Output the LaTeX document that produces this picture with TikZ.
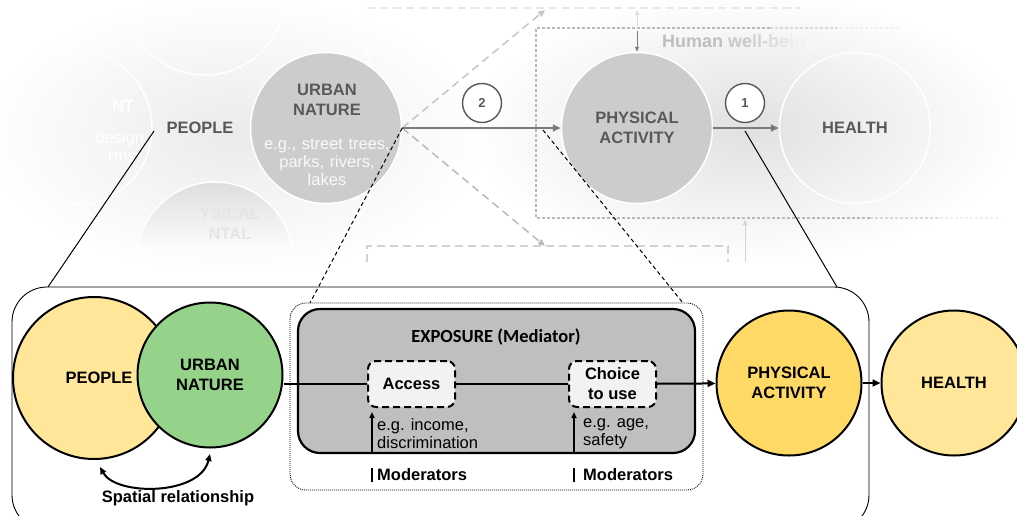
\documentclass[tikz,border=0pt]{standalone}
\usepackage{fontspec}
\setmainfont{Liberation Sans}
\newfontfamily\titlefont{Carlito}
\usetikzlibrary{arrows.meta,positioning}

\definecolor{peoplefill}{HTML}{FFE699}
\definecolor{naturefill}{HTML}{95D38B}
\definecolor{activityfill}{HTML}{FFD966}
\definecolor{exposurefill}{HTML}{BFBFBF}
\definecolor{gatefill}{HTML}{F2F2F2}
\definecolor{fadedtext}{HTML}{595959}
\definecolor{fadedline}{HTML}{7A7A7A}
\definecolor{bgcore}{HTML}{CCCCCC}

\newcommand{\labelfont}{\fontsize{16.5pt}{20pt}\selectfont\bfseries}
\newcommand{\notefont}{\fontsize{16.5pt}{18pt}\selectfont}

\begin{document}
\begin{tikzpicture}[x=1pt,y=-1pt,
    bgcircle/.style={circle, draw=white, line width=1.5pt, inner sep=0pt, minimum size=151pt},
    bglabel/.style={text=fadedtext, font=\labelfont, align=center, inner sep=0pt},
    stepnum/.style={circle, draw=fadedtext, fill=white, line width=1.4pt, minimum size=39pt, inner sep=0pt, text=fadedtext, font=\fontsize{13pt}{15pt}\selectfont\bfseries},
    bgflow/.style={draw=fadedline, line width=2pt, -{Triangle[length=8pt,width=7pt]}},
    bglink/.style={draw=gray!55, line width=1.5pt, dash pattern=on 8pt off 5pt},
    bgframe/.style={line width=1.3pt, dash pattern=on 3pt off 2pt},
    bgthin/.style={draw=fadedline, line width=1pt, -{Triangle[length=5pt,width=4pt]}},
    stage/.style={circle, draw=black, line width=2pt, inner sep=0pt, minimum size=145pt, font=\labelfont, align=center},
    gatebox/.style={rectangle, rounded corners=8pt, draw=black, line width=2pt, dash pattern=on 7pt off 4pt, fill=gatefill, minimum width=87pt, minimum height=46pt, font=\labelfont, align=center},
    flow/.style={line width=2pt},
    flowarrow/.style={flow, -{Triangle[length=8pt,width=7pt]}},
    zoomline/.style={line width=1pt},
    zoomdash/.style={line width=1pt, dash pattern=on 4pt off 3pt},
    modarrow/.style={line width=2pt, -{Triangle[length=6pt,width=5pt]}}]
  \clip (0,0) rectangle (1017,515);

  \begin{scope}
  \clip (0,0) rectangle (1017,284);
  \begin{scope}[transform canvas={yscale=0.549}]
    \shade[inner color=gray!16, outer color=white] (235,245.9) circle (255);
  \end{scope}
  \begin{scope}[transform canvas={yscale=0.491}]
    \shade[inner color=gray!24, outer color=white] (745,260.7) circle (275);
  \end{scope}
  \draw[white, line width=1.5pt] (200,128) circle (183);
  \draw[white, line width=1.5pt] (75,128) circle (77);
  \draw[white, line width=1.5pt] (205,-5) circle (80);
  \begin{scope}
    \clip (215,260) circle (78);
    \shade[top color=gray!26, bottom color=gray!4] (130,182) rectangle (300,245);
  \end{scope}
  \draw[white, line width=1.5pt] (215,260) circle (78);
  \node[bglabel, text=white] (bgleftcap) at (123,106) {NT};
  \node[bglabel, text=white, font=\notefont] (bgleftnote) at (122,147) {design,\\rms};
  \node[bglabel, text=gray!20] (bgbottomcap) at (230,224) {YSICAL\\NTAL};

  \node[bgcircle, fill=bgcore] (bgnature) at (326,128) {};
  \node[bglabel] (bgnaturecap) at (327,100) {URBAN\\NATURE};
  \node[bglabel, text=gray!5, font=\notefont\mdseries, text width=130pt, align=center] (bgnaturenote) at (327,162) {e.g., street trees,\\parks, rivers,\\lakes};
  \node[bglabel] (bgpeople) at (200,128) {PEOPLE};
  \node[bgcircle, fill=bgcore] (bgactivity) at (637,128) {};
  \node[bglabel] at (bgactivity) {PHYSICAL\\ACTIVITY};
  \node[bgcircle] (bghealth) at (855,128) {};
  \node[bglabel] at (bghealth) {HEALTH};

  \coordinate (upend) at (545,10);
  \coordinate (downend) at (545,246);
  \draw[bgframe, draw=gray!55] (770,28) -- (536,28) -- (536,218) -- (870,218);
  \draw[bgframe, draw=gray!30] (770,28) -- (840,28);
  \draw[bgframe, draw=gray!12] (840,28) -- (900,28);
  \draw[bgframe, draw=gray!30] (870,218) -- (940,218);
  \draw[bgframe, draw=gray!12] (940,218) -- (1000,218);
  \draw[bglink, draw=gray!18] (367,8) -- (800,8);
  \draw[bglink, draw=gray!35] (367,262) -- (367,246) -- (728,246) -- (728,262);
  \draw[bglink, draw=gray!45, -{Triangle[length=7pt,width=6pt]}] (bgnature.east) -- (upend);
  \draw[bglink, -{Triangle[length=7pt,width=6pt]}] (bgnature.east) -- (downend);
  \draw[bgflow] (bgnature.east) -- (bgactivity.west);
  \draw[bgflow] (bgactivity.east) -- (bghealth.west);
  \draw[bgthin] (637,31) -- (bgactivity.north);
  \draw[bgthin, draw=gray!25] (637,26) -- (637,10);
  \draw[bgthin, draw=gray!35] (745,262) -- (745,220);
  \node[stepnum] (step2) at (482,103) {2};
  \node[stepnum] (step1) at (745,103) {1};
  \node[anchor=west, inner sep=0pt, font=\fontsize{18pt}{20pt}\selectfont\bfseries] (wellbeing) at (662,43) {\color{gray!50}Human {\color{gray!42}we}{\color{gray!35}ll-}{\color{gray!27}b}{\color{gray!20}e}{\color{gray!14}i}{\color{gray!10}n}{\color{gray!7}g}};
  \end{scope}

  \draw[rounded corners=35pt, line width=0.9pt] (12,287) rectangle (869,530);
  \draw[rounded corners=16pt, line width=0.8pt, dash pattern=on 1pt off 1pt] (290,303) rectangle (703,490);

  \coordinate (zoomleft) at (154,131);
  \coordinate (panelleft) at (48,287);
  \coordinate (zoomright) at (745,131);
  \coordinate (panelright) at (837,287);
  \coordinate (dashstart) at (543,130);
  \coordinate (zoneleft) at (310,303);
  \coordinate (zoneright) at (683,303);
  \draw[zoomline] (zoomleft) -- (panelleft);
  \draw[zoomline] (zoomright) -- (panelright);
  \draw[zoomdash] (bgnature.east) -- (zoneleft);
  \draw[zoomdash] (dashstart) -- (zoneright);

  \node[stage, fill=peoplefill, minimum size=162pt] (people) at (94,378) {\hspace*{10pt}PEOPLE};
  \node[stage, fill=naturefill] (nature) at (210,375) {URBAN\\NATURE};
  \node[rectangle, rounded corners=22pt, draw=black, line width=2.2pt, fill=exposurefill, minimum width=397pt, minimum height=144pt] (exposure) at (496.5,381) {};
  \node[font=\titlefont\fontsize{18.5pt}{20pt}\selectfont\bfseries] (exposurecap) at (496,337) {EXPOSURE (Mediator)};
  \node[gatebox] (access) at (411.5,384) {Access};
  \node[gatebox] (choice) at (612.5,384) {Choice\\to use};
  \node[stage, fill=activityfill] (activity) at (789,383) {PHYSICAL\\ACTIVITY};
  \node[stage, fill=peoplefill] (health) at (954,383) {HEALTH};

  \draw[flow] (access.west -| nature.east) -- (access.west);
  \draw[flow] (access) -- (choice);
  \draw[flowarrow] (choice) -- (activity);
  \draw[flowarrow] (activity) -- (health);

  \coordinate (spatialleft) at (100,467);
  \coordinate (spatialright) at (210,454);
  \draw[line width=2pt, {Triangle[length=7pt,width=6pt]}-{Triangle[length=7pt,width=6pt]}] (spatialleft) .. controls (116,496) and (200,496) .. (spatialright);
  \node[font=\labelfont] (spatial) at (178,498) {Spatial relationship};

  \node[anchor=north west, inner sep=0pt, align=left, font=\notefont] (egleft) at (377,418) {e.g. income,\\discrimination};
  \node[anchor=base west, inner sep=0pt, font=\labelfont] (modleft) at (377,480) {Moderators};
  \node[anchor=north west, inner sep=0pt, align=left, font=\notefont] (egright) at (583,418) {e.g. age,\\safety};
  \node[anchor=base west, inner sep=0pt, font=\labelfont] (modright) at (583,480) {Moderators};
  \coordinate (modleftbase) at (372,453);
  \coordinate (modlefttip) at (372,412);
  \coordinate (modrightbase) at (574,453);
  \coordinate (modrighttip) at (574,412);
  \draw[modarrow] (modleftbase) -- (modlefttip);
  \draw[modarrow] (modrightbase) -- (modrighttip);
  \draw[line width=2pt] (372,468) -- (372,482);
  \draw[line width=2pt] (574,468) -- (574,482);
\end{tikzpicture}
\end{document}
